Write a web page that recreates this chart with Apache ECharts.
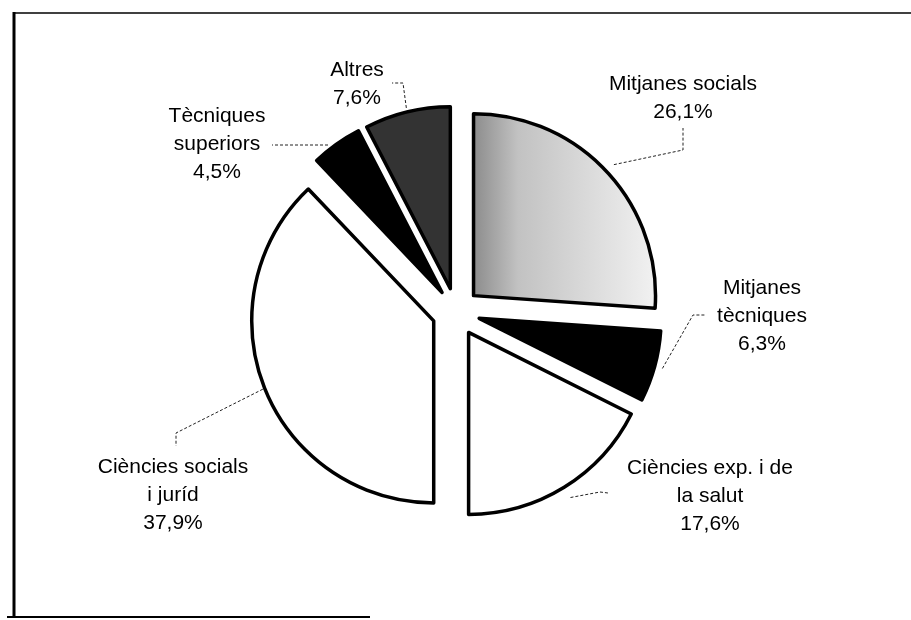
<!DOCTYPE html>
<html>
<head>
<meta charset="utf-8">
<script src="https://cdn.jsdelivr.net/npm/echarts@6/dist/echarts.min.js"></script>
<style>
  html, body { margin: 0; padding: 0; background: #fff; }
  #chart { width: 911px; height: 620px; }
</style>
</head>
<body>
<div id="chart"></div>
<script>
// ---- data ----
const categories = [
  'Mitjanes socials',
  'Mitjanes\ntècniques',
  'Ciències exp. i de\nla salut',
  'Ciències socials\ni juríd',
  'Tècniques\nsuperiors',
  'Altres'
];
const values = [26.1, 6.3, 17.6, 37.9, 4.5, 7.6];

// ---- layout (pixels) ----
const CX = 456, CY = 312, R = 182, EXPLODE = 24;
const labelCenters = [
  [683, 98], [762, 316], [710, 496], [173, 495], [217, 144], [357, 84]
];
// bend / end points of leader lines (start is computed on the slice unless overridden)
const leaderTail = [
  [[683, 150], [683, 128]],
  [[693, 315], [705, 315]],
  [[600, 492], [608, 493]],
  [[176, 433], [176, 446]],
  [[300, 145], [272, 145]],
  [[403, 83], [392, 83]]
];
const leaderStartR = [192, 190, 194, 184, 190, 186];
const leaderStartOverride = [null, null, null, null, [328, 145], null];

const fills = [
  new echarts.graphic.LinearGradient(0, 0, 1, 0, [
    { offset: 0, color: '#8a8a8a' },
    { offset: 0.25, color: '#c2c2c2' },
    { offset: 1, color: '#f2f2f2' }
  ]),
  '#000000',
  '#ffffff',
  '#ffffff',
  '#000000',
  '#333333'
];

const total = values.reduce((a, b) => a + b, 0);
function bisector(i) {
  let before = 0;
  for (let k = 0; k < i; k++) before += values[k];
  return (before + values[i] / 2) / total * 2 * Math.PI; // clockwise from top
}

const chart = echarts.init(document.getElementById('chart'), null, { renderer: 'canvas' });

chart.setOption({
  animation: false,
  backgroundColor: '#ffffff',
  graphic: [
    { type: 'line', shape: { x1: 14, y1: 13, x2: 911, y2: 13 }, style: { stroke: '#000', lineWidth: 1.5 } },
    { type: 'line', shape: { x1: 14, y1: 12, x2: 14, y2: 618 }, style: { stroke: '#000', lineWidth: 3 } },
    { type: 'line', shape: { x1: 7, y1: 617, x2: 370, y2: 617 }, style: { stroke: '#000', lineWidth: 2 } }
  ],
  series: [{
    // slices (exploded)
    type: 'pie',
    center: [CX, CY],
    radius: R,
    startAngle: 90,
    clockwise: true,
    selectedMode: 'multiple',
    selectedOffset: EXPLODE,
    silent: true,
    data: categories.map((name, i) => ({
      name: name,
      value: values[i],
      selected: true,
      itemStyle: { color: fills[i] }
    })),
    itemStyle: { borderColor: '#000', borderWidth: 3.5 },
    select: { itemStyle: { borderColor: '#000', borderWidth: 3.5 } },
    emphasis: { disabled: true },
    label: { show: false },
    labelLine: { show: false }
  }, {
    // labels and leader lines
    type: 'pie',
    center: [CX, CY],
    radius: R,
    startAngle: 90,
    clockwise: true,
    silent: true,
    z: 3,
    data: categories.map((name, i) => ({ name: name, value: values[i] })),
    itemStyle: { color: 'rgba(0,0,0,0)', borderWidth: 0 },
    emphasis: { disabled: true },
    avoidLabelOverlap: false,
    label: {
      show: true,
      position: 'outside',
      color: '#000',
      fontFamily: 'Liberation Sans, Arial, sans-serif',
      fontSize: 21,
      lineHeight: 28,
      align: 'center',
      formatter: p => p.name + '\n' + p.value.toFixed(1).replace('.', ',') + '%'
    },
    labelLine: {
      show: true,
      lineStyle: { color: '#222', width: 1, type: [3, 2] }
    },
    labelLayout: function (params) {
      const i = params.dataIndex;
      let start = leaderStartOverride[i];
      if (!start) {
        const a = bisector(i);
        const dx = Math.sin(a), dy = -Math.cos(a);
        start = [CX + dx * (EXPLODE + leaderStartR[i]), CY + dy * (EXPLODE + leaderStartR[i])];
      }
      return {
        x: labelCenters[i][0],
        y: labelCenters[i][1],
        align: 'center',
        verticalAlign: 'middle',
        labelLinePoints: [start, leaderTail[i][0], leaderTail[i][1]]
      };
    }
  }]
});
</script>
</body>
</html>
